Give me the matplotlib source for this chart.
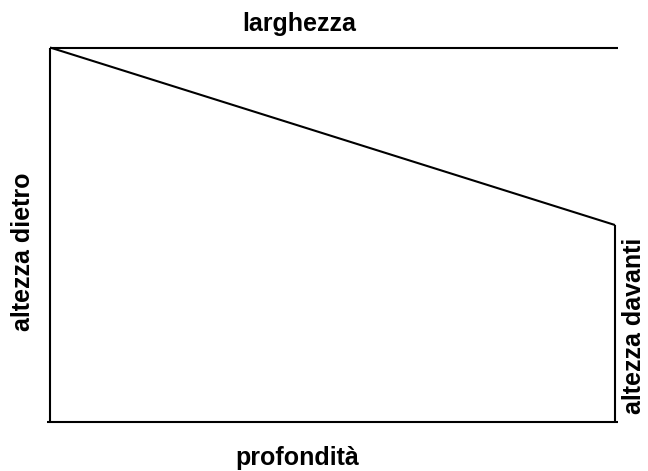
import matplotlib.pyplot as plt

# ---------------------------------------------------------
# Geometry (normalised: depth = 1, back height = 1)
# ---------------------------------------------------------
depth = 1.0
back_height = 1.0
front_height = 0.526
front_pos = 0.9947     # front edge sits a bit inside the top line
bottom_start = -0.0053

labels = {
    "top": "larghezza",
    "bottom": "profondità",
    "left": "altezza dietro",
    "right": "altezza davanti",
}

plt.rcParams['font.family'] = ['Liberation Sans', 'DejaVu Sans']

fig = plt.figure(figsize=(6.48, 4.71), dpi=100)
ax = fig.add_axes([50/648, 49/471, 568/648, 374.5/471])
ax.set_xlim(0, depth)
ax.set_ylim(0, back_height)
ax.axis('off')

lw = 1.5
kw = dict(color='black', lw=lw, solid_capstyle='butt', clip_on=False)

# top line (larghezza)
ax.plot([0, depth], [back_height, back_height], **kw)
# bottom line (profondita)
ax.plot([bottom_start, depth], [0, 0], **kw)
# back vertical
ax.plot([0, 0], [0, back_height], **kw)
# front vertical
ax.plot([front_pos, front_pos], [0, front_height], **kw)
# sloped top
ax.plot([0, front_pos], [back_height, front_height], **kw)

fs = 18
ax.text(0.439, back_height + 0.064, labels["top"], ha='center', va='center',
        fontsize=fs, fontweight='bold')
ax.text(0.435, -0.095, labels["bottom"], ha='center', va='center',
        fontsize=fs, fontweight='bold')
ax.text(-0.0475, 0.454, labels["left"], ha='center', va='center',
        rotation=90, fontsize=fs, fontweight='bold')
ax.text(depth + 0.028, 0.258, labels["right"], ha='center', va='center',
        rotation=90, fontsize=fs, fontweight='bold')

fig.savefig("out.png", dpi=100)
